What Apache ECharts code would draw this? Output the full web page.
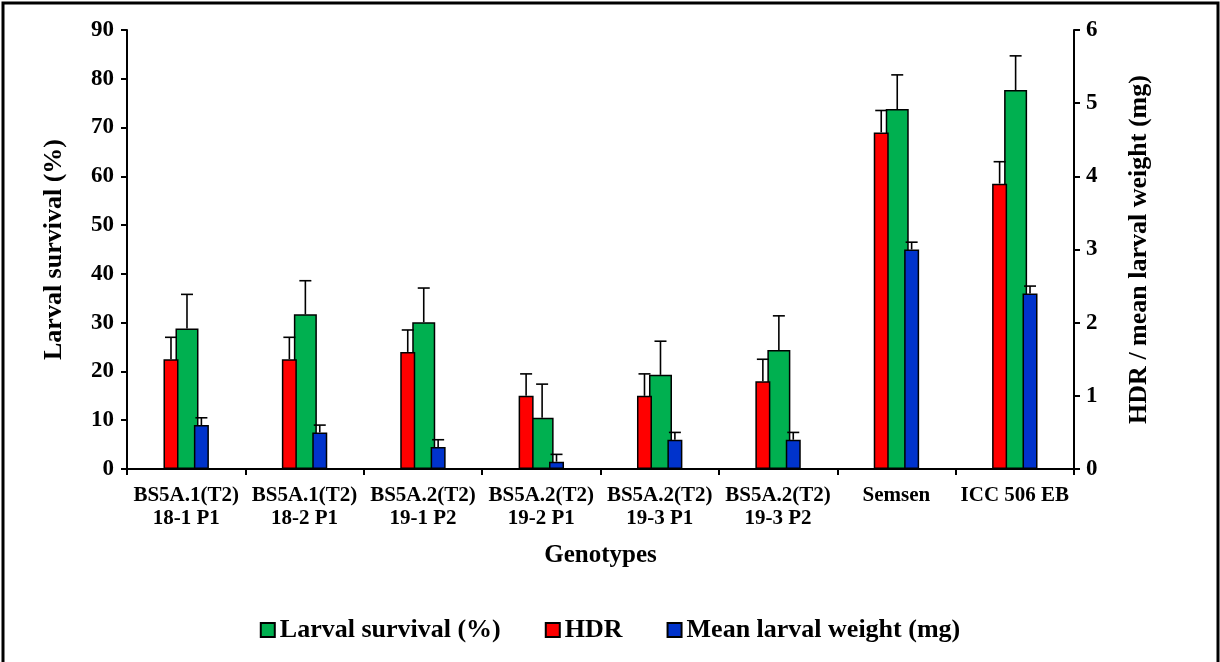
<!DOCTYPE html>
<html>
<head>
<meta charset="utf-8">
<script src="https://cdn.jsdelivr.net/npm/echarts@6/dist/echarts.min.js"></script>
<style>
  html, body { margin: 0; padding: 0; background: #fff; }
  #chart { width: 1220px; height: 662px; }
</style>
</head>
<body>
<div id="chart"></div>
<script>
// Genotypes on the category axis
const categories = [
  'BS5A.1(T2)\n18-1 P1',
  'BS5A.1(T2)\n18-2 P1',
  'BS5A.2(T2)\n19-1 P2',
  'BS5A.2(T2)\n19-2 P1',
  'BS5A.2(T2)\n19-3 P1',
  'BS5A.2(T2)\n19-3 P2',
  'Semsen',
  'ICC 506 EB'
];

// Larval survival (%) - left axis
const survival    = [28.8, 31.7, 30.1, 10.5, 19.3, 24.4, 73.8, 77.7];
const survivalErr = [7.0, 6.9, 7.0, 6.9, 6.9, 7.0, 7.0, 7.0];

// HDR - right axis
const hdr    = [1.5, 1.5, 1.6, 1.0, 1.0, 1.2, 4.6, 3.9];
const hdrErr = [0.3, 0.3, 0.3, 0.3, 0.3, 0.3, 0.3, 0.3];

// Mean larval weight (mg) - right axis
const weight    = [0.6, 0.5, 0.3, 0.1, 0.4, 0.4, 3.0, 2.4];
const weightErr = [0.1, 0.1, 0.1, 0.1, 0.1, 0.1, 0.1, 0.1];

const leftTicks  = { min: 0, max: 90, interval: 10 };
const rightTicks = { min: 0, max: 6, interval: 1 };

const FONT = "'Liberation Serif', 'Times New Roman', serif";
const COLORS = { hdr: '#FF0000', survival: '#00B050', weight: '#0033CC' };

// bar widths (px) in drawing order: HDR, survival, weight
const BAR_WIDTHS = [15, 23, 15];
const BAR_GAP = -0.2;

// centre offset of each bar within its category, same rule ECharts uses
function barOffsets() {
  let total = 0;
  BAR_WIDTHS.forEach(w => { total += w * (1 + BAR_GAP); });
  total -= BAR_WIDTHS[BAR_WIDTHS.length - 1] * BAR_GAP;
  let off = -total / 2;
  return BAR_WIDTHS.map(w => {
    const c = off + w / 2;
    off += w * (1 + BAR_GAP);
    return c;
  });
}
const OFFSETS = barOffsets();

function errorData(means, errs) {
  return means.map((m, i) => [i, m, errs[i]]);
}

function errorSeries(name, means, errs, yAxisIndex, slot) {
  return {
    type: 'custom',
    name: name + ' error',
    yAxisIndex: yAxisIndex,
    z: 10,
    silent: true,
    data: errorData(means, errs),
    renderItem: function (params, api) {
      const i = api.value(0);
      const base = api.coord([i, api.value(1)]);
      const top = api.coord([i, api.value(1) + api.value(2)]);
      const x = base[0] + OFFSETS[slot];
      const half = 6;
      return {
        type: 'group',
        children: [
          { type: 'line', shape: { x1: x, y1: base[1], x2: x, y2: top[1] },
            style: { stroke: '#000', lineWidth: 1.6 } },
          { type: 'line', shape: { x1: x - half, y1: top[1], x2: x + half, y2: top[1] },
            style: { stroke: '#000', lineWidth: 1.6 } }
        ]
      };
    }
  };
}

const labelStyle = { fontFamily: FONT, fontWeight: 'bold', color: '#000' };

const chart = echarts.init(document.getElementById('chart'), null, { renderer: 'canvas' });

chart.setOption({
  backgroundColor: '#fff',
  animation: false,
  graphic: [{
    type: 'rect',
    shape: { x: 3, y: 3, width: 1215, height: 664 },
    style: { fill: 'none', stroke: '#000', lineWidth: 3 },
    silent: true,
    z: 100
  }],
  grid: { left: 127, right: 146, top: 30, bottom: 193, containLabel: false },
  legend: {
    bottom: 14,
    left: 'center',
    itemWidth: 14,
    itemHeight: 14,
    itemGap: 44,
    icon: 'rect',
    data: ['Larval survival (%)', 'HDR', 'Mean larval weight (mg)'],
    textStyle: Object.assign({ fontSize: 26 }, labelStyle)
  },
  xAxis: {
    type: 'category',
    data: categories,
    name: 'Genotypes',
    nameLocation: 'middle',
    nameGap: 74,
    nameTextStyle: Object.assign({ fontSize: 25 }, labelStyle),
    axisLine: { lineStyle: { color: '#000', width: 2 } },
    axisTick: { show: true, length: 6, lineStyle: { color: '#000', width: 2 } },
    axisLabel: Object.assign({ fontSize: 21, lineHeight: 23, margin: 15, interval: 0 }, labelStyle)
  },
  yAxis: [
    {
      type: 'value',
      min: leftTicks.min, max: leftTicks.max, interval: leftTicks.interval,
      name: 'Larval survival (%)',
      nameLocation: 'middle',
      nameRotate: 90,
      nameGap: 60,
      nameTextStyle: Object.assign({ fontSize: 26 }, labelStyle),
      axisLine: { show: true, lineStyle: { color: '#000', width: 2 } },
      axisTick: { show: true, length: 6, lineStyle: { color: '#000', width: 2 } },
      axisLabel: Object.assign({ fontSize: 23, margin: 13 }, labelStyle),
      splitLine: { show: false }
    },
    {
      type: 'value',
      position: 'right',
      min: rightTicks.min, max: rightTicks.max, interval: rightTicks.interval,
      name: 'HDR / mean larval weight (mg)',
      nameLocation: 'middle',
      nameRotate: 90,
      nameGap: 52,
      nameTextStyle: Object.assign({ fontSize: 26 }, labelStyle),
      axisLine: { show: true, lineStyle: { color: '#000', width: 2 } },
      axisTick: { show: true, length: 6, lineStyle: { color: '#000', width: 2 } },
      axisLabel: Object.assign({ fontSize: 23, margin: 12 }, labelStyle),
      splitLine: { show: false }
    }
  ],
  series: [
    {
      name: 'HDR',
      type: 'bar',
      yAxisIndex: 1,
      barWidth: BAR_WIDTHS[0],
      barGap: (BAR_GAP * 100) + '%',
      z: 3,
      itemStyle: { color: COLORS.hdr, borderColor: '#000', borderWidth: 1.5 },
      data: hdr
    },
    {
      name: 'Larval survival (%)',
      type: 'bar',
      yAxisIndex: 0,
      barWidth: BAR_WIDTHS[1],
      barGap: (BAR_GAP * 100) + '%',
      z: 2,
      itemStyle: { color: COLORS.survival, borderColor: '#000', borderWidth: 1.5 },
      data: survival
    },
    {
      name: 'Mean larval weight (mg)',
      type: 'bar',
      yAxisIndex: 1,
      barWidth: BAR_WIDTHS[2],
      barGap: (BAR_GAP * 100) + '%',
      z: 3,
      itemStyle: { color: COLORS.weight, borderColor: '#000', borderWidth: 1.5 },
      data: weight
    },
    errorSeries('HDR', hdr, hdrErr, 1, 0),
    errorSeries('Larval survival (%)', survival, survivalErr, 0, 1),
    errorSeries('Mean larval weight (mg)', weight, weightErr, 1, 2)
  ]
});
</script>
</body>
</html>
